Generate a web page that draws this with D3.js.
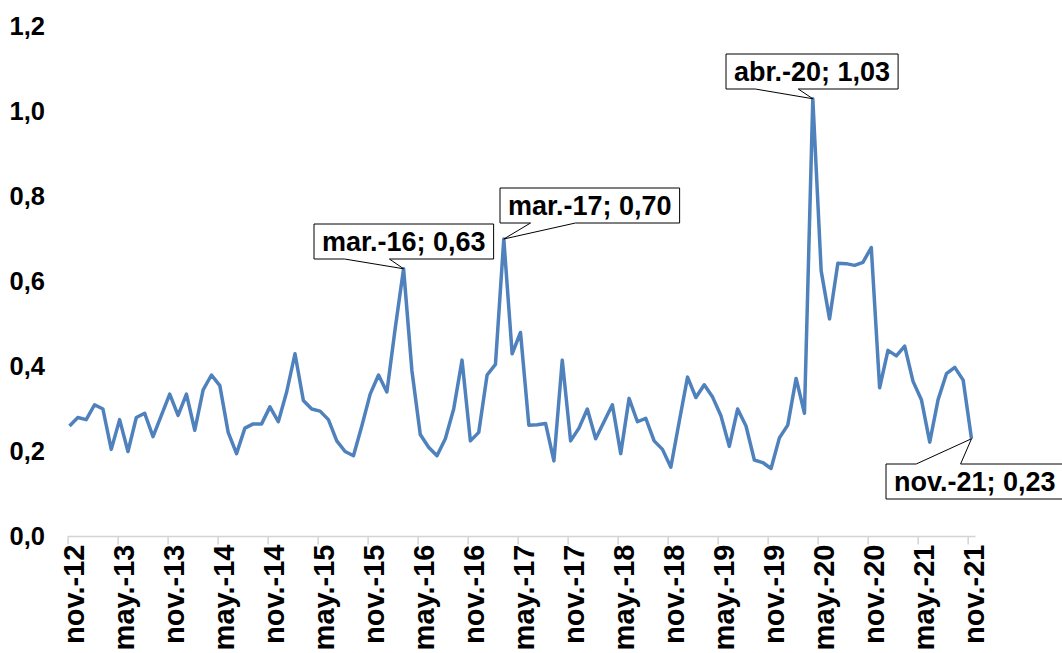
<!DOCTYPE html>
<html>
<head>
<meta charset="utf-8">
<script src="https://d3js.org/d3.v7.min.js"></script>
<style>
  body { margin: 0; background: white; }
  svg text { font-family: "Liberation Sans", Arial, sans-serif; font-weight: bold; fill: #000; }
</style>
</head>
<body>
<div id="chart"></div>
<script>
// monthly series, nov.-12 .. nov.-21
const monthNames = ["ene.", "feb.", "mar.", "abr.", "may.", "jun.", "jul.", "ago.", "sep.", "oct.", "nov.", "dic."];
const startMonth = 10, startYear = 12;
const values = [
  0.26, 0.28, 0.275, 0.31, 0.30, 0.205, 0.275, 0.20, 0.28, 0.29, 0.235, 0.285,
  0.335, 0.285, 0.335, 0.25, 0.345, 0.38, 0.355, 0.245, 0.195, 0.255, 0.265, 0.265,
  0.305, 0.27, 0.34, 0.43, 0.32, 0.30, 0.295, 0.275, 0.225, 0.20, 0.19, 0.26,
  0.335, 0.38, 0.34, 0.49, 0.63, 0.39, 0.24, 0.21, 0.19, 0.23, 0.30, 0.415,
  0.225, 0.245, 0.38, 0.405, 0.70, 0.43, 0.48, 0.262, 0.263, 0.266, 0.178, 0.415,
  0.225, 0.255, 0.30, 0.23, 0.27, 0.31, 0.195, 0.325, 0.27, 0.278, 0.225, 0.205,
  0.163, 0.27, 0.375, 0.327, 0.357, 0.328, 0.284, 0.212, 0.30, 0.26, 0.18, 0.174,
  0.16, 0.232, 0.262, 0.372, 0.29, 1.03, 0.625, 0.512, 0.643, 0.642, 0.638, 0.645,
  0.68, 0.35, 0.438, 0.425, 0.448, 0.365, 0.322, 0.222, 0.322, 0.383, 0.398, 0.368,
  0.23
];
const xTickLabels = ["nov.-12", "may.-13", "nov.-13", "may.-14", "nov.-14", "may.-15", "nov.-15",
  "may.-16", "nov.-16", "may.-17", "nov.-17", "may.-18", "nov.-18", "may.-19", "nov.-19",
  "may.-20", "nov.-20", "may.-21", "nov.-21"];
const yTicks = [0, 0.2, 0.4, 0.6, 0.8, 1.0, 1.2];
const calloutIdx = [40, 52, 89, 108];

const w = 1062, h = 653;

const categories = values.map((v, i) => {
  const m = (startMonth + i) % 12;
  const yr = startYear + Math.floor((startMonth + i) / 12);
  return monthNames[m] + "-" + yr;
});

const svg = d3.select("#chart").append("svg")
  .attr("width", w)
  .attr("height", h)
  .style("display", "block");

const x = d3.scaleLinear().domain([0, values.length - 1]).range([69.5, 971.5]);
const xt = d3.scaleLinear().domain([0, values.length - 1]).range([67.6, 967.7]);
const y = d3.scaleLinear().domain([0, 1.2]).range([536.5, 26.5]);
const loc = d3.formatLocale({decimal: ",", thousands: ".", grouping: [3], currency: ["", ""]});
const fmt = loc.format(".1f");
const fmt2 = loc.format(".2f");

// y labels, no axis line
svg.append("g")
  .selectAll("text")
  .data(yTicks)
  .enter()
  .append("text")
  .attr("x", 45)
  .attr("y", d => y(d))
  .attr("dy", "0.35em")
  .attr("text-anchor", "end")
  .style("font-size", "25.5px")
  .text(d => fmt(d));

// x axis
svg.append("line")
  .attr("x1", xt(0)).attr("x2", x(values.length - 1) + 4)
  .attr("y1", y(0)).attr("y2", y(0))
  .attr("stroke", "#d4d4d4").attr("stroke-width", 1.5);

const tickIdx = xTickLabels.map((d, i) => i * 6);
const xAxis = svg.append("g")
  .attr("transform", "translate(0," + y(0) + ")")
  .call(d3.axisBottom(xt)
    .tickValues(tickIdx)
    .tickSize(8)
    .tickSizeOuter(0)
    .tickFormat((d, i) => xTickLabels[i]));
xAxis.select(".domain").remove();
xAxis.selectAll(".tick line").attr("stroke", "#d4d4d4").attr("stroke-width", 1.5);
xAxis.selectAll(".tick text")
  .attr("transform", "rotate(-90)")
  .attr("x", -8)
  .attr("y", 6)
  .attr("dy", "0.35em")
  .attr("text-anchor", "end")
  .style("font-size", "29px")
  .style("font-family", "'Liberation Sans', Arial, sans-serif")
  .style("font-weight", "bold")
  .attr("fill", "#000");

// the line
const line = d3.line()
  .x((d, i) => x(i))
  .y(d => y(d));

svg.append("path")
  .datum(values)
  .attr("d", line)
  .attr("fill", "none")
  .attr("stroke", "#4f81bd")
  .attr("stroke-width", 3.5)
  .attr("stroke-linejoin", "round");

// callouts: left, top, wedge on bottom (b) or top (t)
const calloutPos = [[314, 224, "b"], [500, 188, "b"], [726, 54, "b"], [886, 464, "t"]];
const boxH = 35;

calloutIdx.forEach((idx, k) => {
  const [bx, by, side] = calloutPos[k];
  const g = svg.append("g");
  const path = g.append("path");
  const t = g.append("text")
    .attr("x", bx + 8)
    .attr("y", by + boxH / 2)
    .attr("dy", "0.36em")
    .style("font-size", "27px")
    .text(categories[idx] + "; " + fmt2(values[idx]));
  const bw = t.node().getComputedTextLength() + 16;
  const tx = x(idx), ty = y(values[idx]);
  const b1 = bx + bw * 0.17, b2 = bx + bw * 0.42;
  let d;
  if (side === "b") {
    d = `M${bx},${by}H${bx + bw}V${by + boxH}H${b2}L${tx},${ty}L${b1},${by + boxH}H${bx}Z`;
  } else {
    d = `M${bx},${by}H${b1}L${tx},${ty}L${b2},${by}H${bx + bw}V${by + boxH}H${bx}Z`;
  }
  path.attr("d", d)
    .attr("fill", "white")
    .attr("stroke", "#000")
    .attr("stroke-width", 1);
});
</script>
</body>
</html>
